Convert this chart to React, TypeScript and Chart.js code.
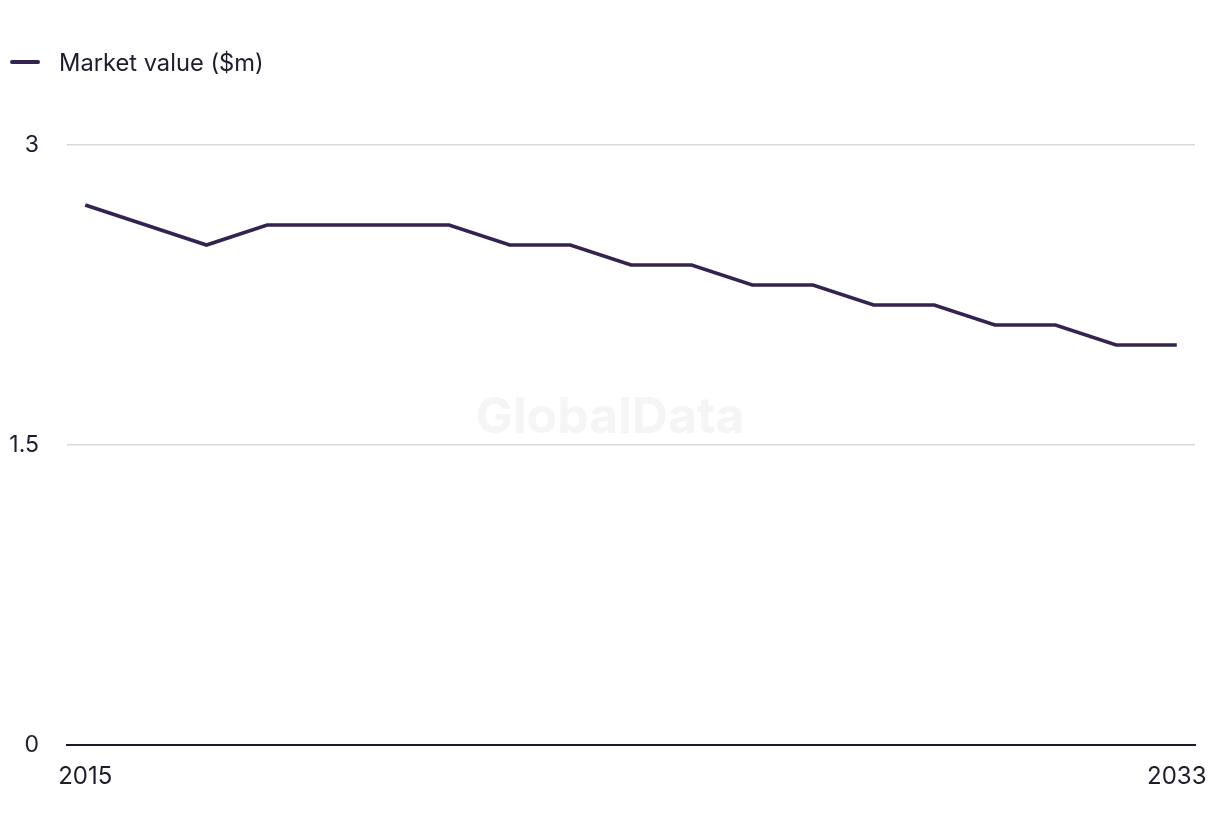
import React, { useEffect, useRef } from "react";
import { Chart, registerables } from "chart.js";

Chart.register(...registerables);

const years = [2015, 2016, 2017, 2018, 2019, 2020, 2021, 2022, 2023, 2024, 2025, 2026, 2027, 2028, 2029, 2030, 2031, 2032, 2033];
const marketValue = [2.7, 2.6, 2.5, 2.6, 2.6, 2.6, 2.6, 2.5, 2.5, 2.4, 2.4, 2.3, 2.3, 2.2, 2.2, 2.1, 2.1, 2.0, 2.0];
const xTicks = [2015, 2033];
const yTicks = [0, 1.5, 3];
const seriesLabel = "Market value ($m)";

const LINE_COLOR = "#35234f";
const TEXT_COLOR = "#1e1c2e";
const FONT = "Inter, 'Noto Sans', sans-serif";

const watermark = {
  id: "watermark",
  beforeDatasetsDraw(chart: any) {
    const { ctx } = chart;
    ctx.save();
    ctx.font = `bold 50px ${FONT}`;
    ctx.fillStyle = "#f5f5f5";
    ctx.textAlign = "center";
    ctx.textBaseline = "middle";
    ctx.fillText("GlobalData", 610, 418);
    ctx.restore();
  },
};

export default function App() {
  const ref = useRef<HTMLCanvasElement | null>(null);

  useEffect(() => {
    if (!ref.current) return;
    const chart = new Chart(ref.current, {
      type: "line",
      data: {
        datasets: [
          {
            label: seriesLabel,
            data: years.map((y, i) => ({ x: y, y: marketValue[i] })),
            borderColor: LINE_COLOR,
            backgroundColor: LINE_COLOR,
            borderWidth: 3.6,
            pointRadius: 0,
            tension: 0,
            fill: false,
          },
        ],
      },
      options: {
        animation: false,
        responsive: false,
        devicePixelRatio: 1,
        layout: { padding: { top: 145, right: 25, left: 0, bottom: 0 } },
        plugins: {
          legend: { display: false },
          tooltip: { enabled: false },
        },
        scales: {
          x: {
            type: "linear",
            min: 2014.7,
            max: 2033.3,
            afterBuildTicks: (axis: any) => {
              axis.ticks = xTicks.map((v) => ({ value: v }));
            },
            afterFit: (axis: any) => {
              axis.height = 91;
              axis.paddingLeft = 0;
              axis.paddingRight = 0;
            },
            grid: { display: false, drawTicks: false },
            border: { display: true, color: "#1b1a2e", width: 2 },
            ticks: {
              color: TEXT_COLOR,
              font: { family: FONT, size: 24 },
              padding: 17,
              maxRotation: 0,
              autoSkip: false,
              callback: (v: any) => String(v),
            },
          },
          y: {
            min: 0,
            max: 3,
            afterBuildTicks: (axis: any) => {
              axis.ticks = yTicks.map((v) => ({ value: v }));
            },
            afterFit: (axis: any) => {
              axis.width = 67;
              axis.paddingTop = 0;
              axis.paddingBottom = 0;
            },
            grid: {
              drawTicks: false,
              color: (c: any) => (c.tick && c.tick.value === 0 ? "rgba(0,0,0,0)" : "#d9d9d9"),
              lineWidth: 1.5,
            },
            border: { display: false },
            ticks: {
              color: TEXT_COLOR,
              font: { family: FONT, size: 23 },
              padding: 28,
              callback: (v: any) => String(v),
            },
          },
        },
      },
      plugins: [watermark],
    });
    return () => chart.destroy();
  }, []);

  return (
    <div style={{ position: "fixed", left: 0, top: 0, width: 1220, height: 836, background: "#fff" }}>
      <div
        style={{
          position: "absolute",
          left: 10,
          top: 47,
          height: 30,
          display: "flex",
          alignItems: "center",
          fontFamily: FONT,
          fontSize: 23.7,
          color: TEXT_COLOR,
        }}
      >
        <span style={{ display: "inline-block", width: 30, height: 4, background: LINE_COLOR, borderRadius: 2, marginRight: 19 }} />
        <span>{seriesLabel}</span>
      </div>
      <canvas ref={ref} width={1220} height={836} style={{ display: "block" }} />
    </div>
  );
}
